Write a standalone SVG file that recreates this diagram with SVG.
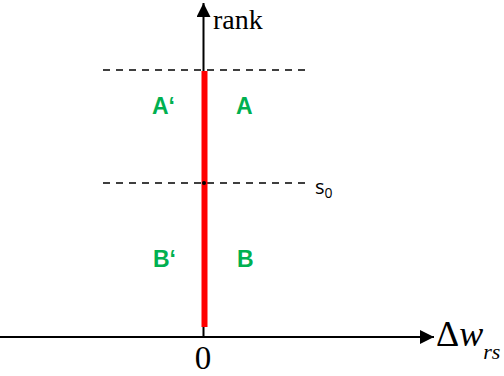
<svg xmlns="http://www.w3.org/2000/svg" width="504" height="376" viewBox="0 0 504 376">
<style>
.ax{stroke:#000;stroke-width:2;fill:none}
.dash{stroke:#000;stroke-width:1.6;stroke-dasharray:7 6;fill:none}
.lbl{font-family:"Liberation Sans",Arial,sans-serif;font-weight:bold;font-size:23px;fill:#00B050}
.tm{font-family:"Liberation Serif","Times New Roman",serif;fill:#000}
</style>
<defs>
<marker id="ah" viewBox="0 0 10 10" refX="10" refY="5" markerWidth="7" markerHeight="7" orient="auto" markerUnits="strokeWidth">
<path d="M0,0 L10,5 L0,10 Z" fill="#000"/>
</marker>
</defs>
<rect width="504" height="376" fill="#fff"/>
<g id="connectors">
<line class="dash" x1="103" y1="70" x2="308" y2="70"/>
<line class="dash" x1="103" y1="183" x2="308" y2="183"/>
<line class="ax" x1="0" y1="337" x2="434" y2="337" marker-end="url(#ah)"/>
<line class="ax" x1="203.5" y1="337" x2="203.5" y2="3" marker-end="url(#ah)"/>
<line x1="204.5" y1="71" x2="204.5" y2="327" stroke="#FF0000" stroke-width="6"/>
<circle cx="204" cy="183" r="2" fill="#000"/>
</g>
<g id="rank"><text class="tm" x="213" y="29" font-size="28">rank</text></g>
<g id="zero"><text class="tm" x="203" y="369" font-size="33" text-anchor="middle">0</text></g>
<g id="dw"><text class="tm" x="436" y="346" font-size="36">Δ<tspan font-style="italic">w</tspan><tspan font-style="italic" font-size="22" dy="13">rs</tspan></text></g>
<g id="s0"><text x="315" y="194" font-family="'Open Sans','Liberation Sans',sans-serif" font-size="20" fill="#000">s<tspan font-size="14" dy="4">0</tspan></text></g>
<g id="Aprime"><text class="lbl" x="152" y="114">A‘</text></g>
<g id="A"><text class="lbl" x="236" y="114">A</text></g>
<g id="Bprime"><text class="lbl" x="153" y="267">B‘</text></g>
<g id="B"><text class="lbl" x="237" y="267">B</text></g>
</svg>
